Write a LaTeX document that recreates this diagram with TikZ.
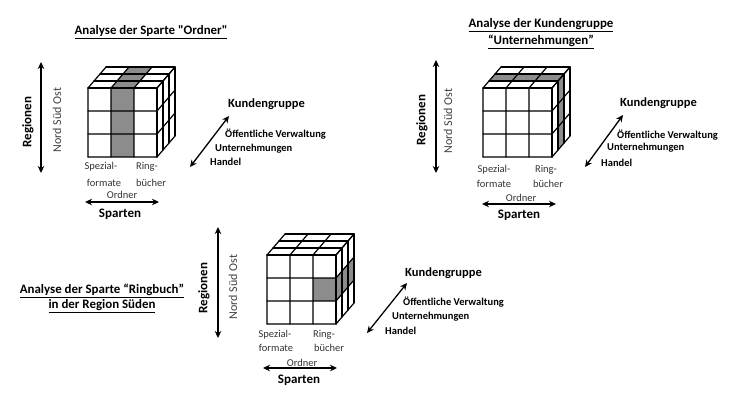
\documentclass[tikz,border=0pt]{standalone}
\usepackage{fontspec}
\setmainfont{Carlito}
\newfontfamily\straightq{Carlito}[Ligatures=ResetAll]
\usetikzlibrary{arrows.meta}
\tikzset{
  cubeline/.style={line width=1.2pt, line cap=round, line join=round},
  shade/.style={fill=black!45},
  ttl/.style={inner sep=0pt, font=\bfseries\fontsize{12.9}{15}\selectfont},
  axis/.style={inner sep=0pt, font=\bfseries\fontsize{13}{15}\selectfont},
  kg/.style={inner sep=0pt, anchor=west, font=\bfseries\fontsize{12.5}{15}\selectfont},
  kgitem/.style={inner sep=0pt, anchor=west, font=\bfseries\fontsize{10.5}{12}\selectfont},
  lbl/.style={inner sep=0pt, text=black!80, font=\fontsize{10.5}{12}\selectfont},
  nso/.style={inner sep=0pt, rotate=90, text=black!75, font=\fontsize{12}{14}\selectfont},
  dbl/.style={{Stealth[length=7pt,width=6.5pt]}-{Stealth[length=7pt,width=6.5pt]}, line width=1.3pt},
}
\newcommand{\cubegrid}[2]{%
  \begin{scope}[shift={(#1,#2)}]
    \foreach \i in {0,1,2,3} {
      \draw[cubeline] (\i*23,0) -- (\i*23,-69) -- ++(18,-21);
      \draw[cubeline] (0,-\i*23) -- (69,-\i*23) -- ++(18,-21);
      \draw[cubeline] (\i*6,-69-\i*7) -- ++(69,0);
      \draw[cubeline] (69+\i*6,-\i*7) -- ++(0,-69);
    }
  \end{scope}}
\begin{document}
\begin{tikzpicture}[x=1pt,y=-1pt]
\useasboundingbox (0,0) rectangle (749,400);

% ---------------- Cube 1: Sparte Ordner ----------------
\begin{scope}[shift={(88,157)}]
  \fill[shade] (23,0) rectangle (46,-69);
  \fill[shade] (23,-69) -- (46,-69) -- (64,-90) -- (41,-90) -- cycle;
\end{scope}
\cubegrid{88}{157}
\node[ttl] (t1) at (151,32) {\underline{Analyse der Sparte {\straightq\bfseries "}Ordner{\straightq\bfseries "}}};
\coordinate (r1a) at (41,62);
\coordinate (r1b) at (41,173);
\draw[dbl] (r1a) -- (r1b);
\node[axis, rotate=90] (reg1) at (28,122) {Regionen};
\node[nso] (nso1) at (57,120) {Nord Süd Ost};
\node[lbl] (sp1a) at (101,167) {Spezial-};
\node[lbl] (sp1b) at (104,183) {formate};
\node[lbl] (ri1a) at (147,167) {Ring-};
\node[lbl] (ri1b) at (151,183) {bücher};
\node[lbl] (or1) at (122,195) {Ordner};
\coordinate (s1a) at (85,202);
\coordinate (s1b) at (159,202);
\draw[dbl] (s1a) -- (s1b);
\node[axis] (spa1) at (120,214) {Sparten};
\node[kg] (kg1) at (228,104) {Kundengruppe};
\node[kgitem] (ov1) at (225,134) {Öffentliche Verwaltung};
\node[kgitem] (un1) at (215,149) {Unternehmungen};
\node[kgitem] (ha1) at (210,162) {Handel};
\coordinate (k1a) at (190,167);
\coordinate (k1b) at (229,116);
\draw[dbl] (k1a) -- (k1b);

% ---------------- Cube 2: Kundengruppe Unternehmungen ----------------
\begin{scope}[shift={(483,157)}]
  \fill[shade] (6,-76) -- (75,-76) -- (81,-83) -- (12,-83) -- cycle;
  \fill[shade] (75,-7) -- (81,-14) -- (81,-83) -- (75,-76) -- cycle;
\end{scope}
\cubegrid{483}{157}
\node[ttl] (t2a) at (541,25) {\underline{Analyse der Kundengruppe}};
\node[ttl] (t2b) at (541,42) {\underline{“Unternehmungen”}};
\coordinate (r2a) at (436,60);
\coordinate (r2b) at (436,173);
\draw[dbl] (r2a) -- (r2b);
\node[axis, rotate=90] (reg2) at (422,120) {Regionen};
\node[nso] (nso2) at (448,121) {Nord Süd Ost};
\node[lbl] (sp2a) at (494,170) {Spezial-};
\node[lbl] (sp2b) at (494,184) {formate};
\node[lbl] (ri2a) at (546,170) {Ring-};
\node[lbl] (ri2b) at (548,184) {bücher};
\node[lbl] (or2) at (521,198) {Ordner};
\coordinate (s2a) at (482,204);
\coordinate (s2b) at (556,204);
\draw[dbl] (s2a) -- (s2b);
\node[axis] (spa2) at (519,215) {Sparten};
\node[kg] (kg2) at (620,103) {Kundengruppe};
\node[kgitem] (ov2) at (617,135) {Öffentliche Verwaltung};
\node[kgitem] (un2) at (607,148) {Unternehmungen};
\node[kgitem] (ha2) at (601,163) {Handel};
\coordinate (k2a) at (585,167);
\coordinate (k2b) at (623,115);
\draw[dbl] (k2a) -- (k2b);

% ---------------- Cube 3: Sparte Ringbuch, Region Sueden ----------------
\begin{scope}[shift={(267,324)}]
  \fill[shade] (46,-23) rectangle (69,-46);
  \fill[shade] (69,-23) -- (87,-44) -- (87,-67) -- (69,-46) -- cycle;
\end{scope}
\cubegrid{267}{324}
\node[ttl] (t3a) at (102,291) {\underline{Analyse der Sparte “Ringbuch”}};
\node[ttl] (t3b) at (102,306) {\underline{in der Region Süden}};
\coordinate (r3a) at (218,227);
\coordinate (r3b) at (218,338);
\draw[dbl] (r3a) -- (r3b);
\node[axis, rotate=90] (reg3) at (204,288) {Regionen};
\node[nso] (nso3) at (233,287) {Nord Süd Ost};
\node[lbl] (sp3a) at (275,335) {Spezial-};
\node[lbl] (sp3b) at (276,348) {formate};
\node[lbl] (ri3a) at (324,335) {Ring-};
\node[lbl] (ri3b) at (329,348) {bücher};
\node[lbl] (or3) at (302,363) {Ordner};
\coordinate (s3a) at (263,368);
\coordinate (s3b) at (337,368);
\draw[dbl] (s3a) -- (s3b);
\node[axis] (spa3) at (299,380) {Sparten};
\node[kg] (kg3) at (405,273) {Kundengruppe};
\node[kgitem] (ov3) at (403,302) {Öffentliche Verwaltung};
\node[kgitem] (un3) at (392,317) {Unternehmungen};
\node[kgitem] (ha3) at (385,331) {Handel};
\coordinate (k3a) at (367,333);
\coordinate (k3b) at (407,283);
\draw[dbl] (k3a) -- (k3b);
\end{tikzpicture}
\end{document}
